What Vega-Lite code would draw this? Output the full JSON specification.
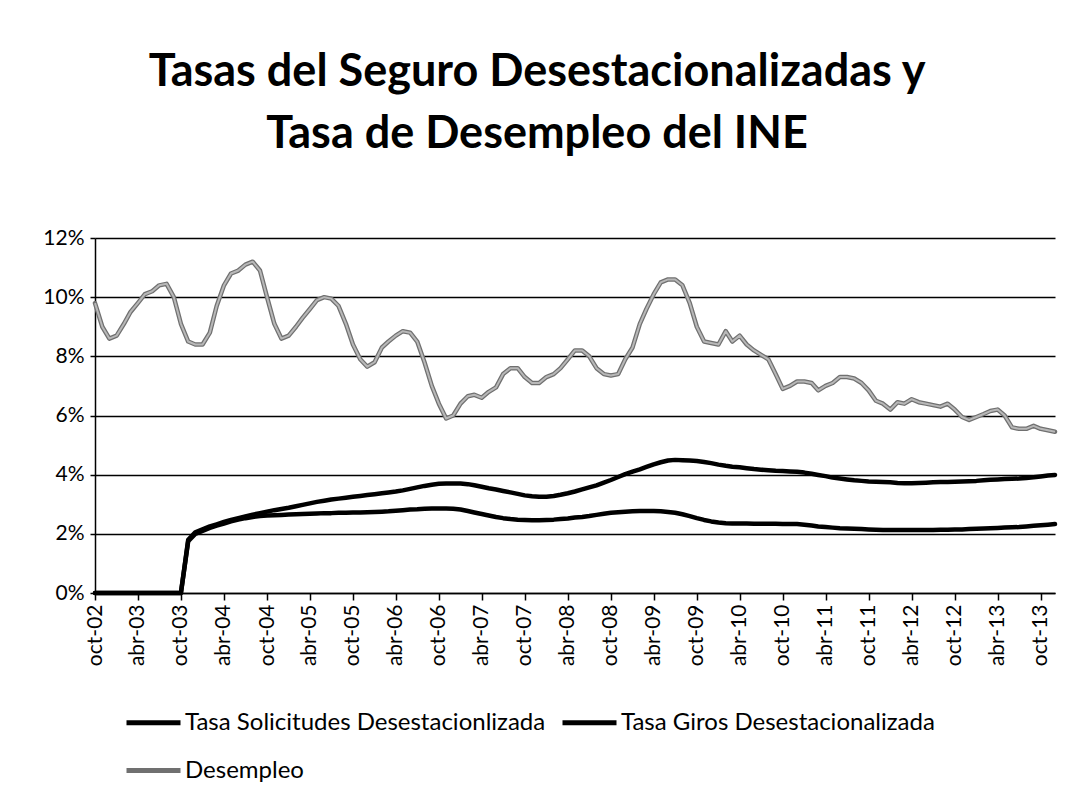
{
  "$schema": "https://vega.github.io/schema/vega-lite/v6.json",
  "width": 960,
  "height": 355,
  "autosize": "none",
  "padding": {"left": 95, "top": 238, "right": 16, "bottom": 209},
  "background": "white",
  "config": {
    "font": "Lato",
    "view": {"stroke": null},
    "locale": {
      "time": {
        "dateTime": "%A, %e de %B de %Y, %X",
        "date": "%d/%m/%Y",
        "time": "%H:%M:%S",
        "periods": ["AM", "PM"],
        "days": ["domingo", "lunes", "martes", "miércoles", "jueves", "viernes", "sábado"],
        "shortDays": ["dom", "lun", "mar", "mié", "jue", "vie", "sáb"],
        "months": ["enero", "febrero", "marzo", "abril", "mayo", "junio", "julio", "agosto", "septiembre", "octubre", "noviembre", "diciembre"],
        "shortMonths": ["ene", "feb", "mar", "abr", "may", "jun", "jul", "ago", "sep", "oct", "nov", "dic"]
      }
    }
  },
  "title": {
    "text": ["Tasas del Seguro Desestacionalizadas y", "Tasa de Desempleo del INE"],
    "font": "Lato",
    "fontSize": 45,
    "fontWeight": "bold",
    "color": "#000000",
    "lineHeight": 62,
    "anchor": "middle",
    "dx": -38,
    "offset": 70
  },
  "data": {
    "values": [
      {"t": "2002-10-01", "sol": 0, "gir": 0, "des": 9.8},
      {"t": "2002-11-01", "sol": 0, "gir": 0, "des": 9.0},
      {"t": "2002-12-01", "sol": 0, "gir": 0, "des": 8.6},
      {"t": "2003-01-01", "sol": 0, "gir": 0, "des": 8.7},
      {"t": "2003-02-01", "sol": 0, "gir": 0, "des": 9.1},
      {"t": "2003-03-01", "sol": 0, "gir": 0, "des": 9.5},
      {"t": "2003-04-01", "sol": 0, "gir": 0, "des": 9.8},
      {"t": "2003-05-01", "sol": 0, "gir": 0, "des": 10.1},
      {"t": "2003-06-01", "sol": 0, "gir": 0, "des": 10.2},
      {"t": "2003-07-01", "sol": 0, "gir": 0, "des": 10.4},
      {"t": "2003-08-01", "sol": 0, "gir": 0, "des": 10.45},
      {"t": "2003-09-01", "sol": 0, "gir": 0, "des": 10.0},
      {"t": "2003-10-01", "sol": 0, "gir": 0, "des": 9.1},
      {"t": "2003-11-01", "sol": 1.8, "gir": 1.75, "des": 8.5},
      {"t": "2003-12-01", "sol": 2.05, "gir": 2.0, "des": 8.4},
      {"t": "2004-01-01", "sol": 2.15, "gir": 2.1, "des": 8.4},
      {"t": "2004-02-01", "sol": 2.25, "gir": 2.2, "des": 8.8},
      {"t": "2004-03-01", "sol": 2.32, "gir": 2.28, "des": 9.7},
      {"t": "2004-04-01", "sol": 2.4, "gir": 2.35, "des": 10.4},
      {"t": "2004-05-01", "sol": 2.47, "gir": 2.42, "des": 10.8},
      {"t": "2004-06-01", "sol": 2.53, "gir": 2.48, "des": 10.9},
      {"t": "2004-07-01", "sol": 2.59, "gir": 2.53, "des": 11.1},
      {"t": "2004-08-01", "sol": 2.65, "gir": 2.57, "des": 11.2},
      {"t": "2004-09-01", "sol": 2.7, "gir": 2.6, "des": 10.9},
      {"t": "2004-10-01", "sol": 2.75, "gir": 2.62, "des": 10.0},
      {"t": "2004-11-01", "sol": 2.8, "gir": 2.63, "des": 9.1},
      {"t": "2004-12-01", "sol": 2.84, "gir": 2.64, "des": 8.6},
      {"t": "2005-01-01", "sol": 2.88, "gir": 2.65, "des": 8.7},
      {"t": "2005-02-01", "sol": 2.93, "gir": 2.66, "des": 9.0},
      {"t": "2005-03-01", "sol": 2.98, "gir": 2.67, "des": 9.3},
      {"t": "2005-04-01", "sol": 3.03, "gir": 2.68, "des": 9.6},
      {"t": "2005-05-01", "sol": 3.08, "gir": 2.69, "des": 9.9},
      {"t": "2005-06-01", "sol": 3.12, "gir": 2.7, "des": 10.0},
      {"t": "2005-07-01", "sol": 3.16, "gir": 2.7, "des": 9.95},
      {"t": "2005-08-01", "sol": 3.19, "gir": 2.71, "des": 9.7},
      {"t": "2005-09-01", "sol": 3.22, "gir": 2.71, "des": 9.1},
      {"t": "2005-10-01", "sol": 3.25, "gir": 2.72, "des": 8.4},
      {"t": "2005-11-01", "sol": 3.28, "gir": 2.72, "des": 7.9},
      {"t": "2005-12-01", "sol": 3.31, "gir": 2.73, "des": 7.65},
      {"t": "2006-01-01", "sol": 3.34, "gir": 2.74, "des": 7.8},
      {"t": "2006-02-01", "sol": 3.37, "gir": 2.75, "des": 8.3},
      {"t": "2006-03-01", "sol": 3.4, "gir": 2.76, "des": 8.5},
      {"t": "2006-04-01", "sol": 3.43, "gir": 2.78, "des": 8.7},
      {"t": "2006-05-01", "sol": 3.47, "gir": 2.8, "des": 8.85},
      {"t": "2006-06-01", "sol": 3.52, "gir": 2.82, "des": 8.8},
      {"t": "2006-07-01", "sol": 3.57, "gir": 2.83, "des": 8.5},
      {"t": "2006-08-01", "sol": 3.62, "gir": 2.85, "des": 7.8},
      {"t": "2006-09-01", "sol": 3.66, "gir": 2.86, "des": 7.0},
      {"t": "2006-10-01", "sol": 3.69, "gir": 2.86, "des": 6.4},
      {"t": "2006-11-01", "sol": 3.7, "gir": 2.86, "des": 5.9},
      {"t": "2006-12-01", "sol": 3.7, "gir": 2.85, "des": 6.0},
      {"t": "2007-01-01", "sol": 3.7, "gir": 2.82, "des": 6.4},
      {"t": "2007-02-01", "sol": 3.68, "gir": 2.77, "des": 6.65},
      {"t": "2007-03-01", "sol": 3.64, "gir": 2.72, "des": 6.7},
      {"t": "2007-04-01", "sol": 3.59, "gir": 2.67, "des": 6.6},
      {"t": "2007-05-01", "sol": 3.54, "gir": 2.62, "des": 6.8},
      {"t": "2007-06-01", "sol": 3.5, "gir": 2.57, "des": 6.95},
      {"t": "2007-07-01", "sol": 3.45, "gir": 2.53, "des": 7.4},
      {"t": "2007-08-01", "sol": 3.4, "gir": 2.5, "des": 7.6},
      {"t": "2007-09-01", "sol": 3.35, "gir": 2.48, "des": 7.6},
      {"t": "2007-10-01", "sol": 3.3, "gir": 2.47, "des": 7.3},
      {"t": "2007-11-01", "sol": 3.27, "gir": 2.46, "des": 7.1},
      {"t": "2007-12-01", "sol": 3.25, "gir": 2.46, "des": 7.1},
      {"t": "2008-01-01", "sol": 3.25, "gir": 2.47, "des": 7.3},
      {"t": "2008-02-01", "sol": 3.28, "gir": 2.48, "des": 7.4},
      {"t": "2008-03-01", "sol": 3.32, "gir": 2.5, "des": 7.6},
      {"t": "2008-04-01", "sol": 3.37, "gir": 2.52, "des": 7.9},
      {"t": "2008-05-01", "sol": 3.43, "gir": 2.55, "des": 8.2},
      {"t": "2008-06-01", "sol": 3.5, "gir": 2.57, "des": 8.2},
      {"t": "2008-07-01", "sol": 3.57, "gir": 2.6, "des": 8.0},
      {"t": "2008-08-01", "sol": 3.64, "gir": 2.64, "des": 7.6},
      {"t": "2008-09-01", "sol": 3.73, "gir": 2.68, "des": 7.4},
      {"t": "2008-10-01", "sol": 3.82, "gir": 2.71, "des": 7.35},
      {"t": "2008-11-01", "sol": 3.92, "gir": 2.73, "des": 7.4},
      {"t": "2008-12-01", "sol": 4.02, "gir": 2.75, "des": 7.9},
      {"t": "2009-01-01", "sol": 4.1, "gir": 2.76, "des": 8.3},
      {"t": "2009-02-01", "sol": 4.18, "gir": 2.77, "des": 9.1},
      {"t": "2009-03-01", "sol": 4.26, "gir": 2.77, "des": 9.6},
      {"t": "2009-04-01", "sol": 4.35, "gir": 2.77, "des": 10.1},
      {"t": "2009-05-01", "sol": 4.42, "gir": 2.76, "des": 10.5},
      {"t": "2009-06-01", "sol": 4.48, "gir": 2.74, "des": 10.6},
      {"t": "2009-07-01", "sol": 4.5, "gir": 2.71, "des": 10.6},
      {"t": "2009-08-01", "sol": 4.49, "gir": 2.66, "des": 10.4},
      {"t": "2009-09-01", "sol": 4.48, "gir": 2.6, "des": 9.8},
      {"t": "2009-10-01", "sol": 4.46, "gir": 2.53, "des": 9.0},
      {"t": "2009-11-01", "sol": 4.43, "gir": 2.47, "des": 8.5},
      {"t": "2009-12-01", "sol": 4.39, "gir": 2.42, "des": 8.45},
      {"t": "2010-01-01", "sol": 4.34, "gir": 2.38, "des": 8.4},
      {"t": "2010-02-01", "sol": 4.3, "gir": 2.36, "des": 8.85},
      {"t": "2010-03-01", "sol": 4.27, "gir": 2.35, "des": 8.5},
      {"t": "2010-04-01", "sol": 4.25, "gir": 2.35, "des": 8.7},
      {"t": "2010-05-01", "sol": 4.22, "gir": 2.35, "des": 8.4},
      {"t": "2010-06-01", "sol": 4.19, "gir": 2.34, "des": 8.2},
      {"t": "2010-07-01", "sol": 4.17, "gir": 2.34, "des": 8.05},
      {"t": "2010-08-01", "sol": 4.15, "gir": 2.34, "des": 7.9},
      {"t": "2010-09-01", "sol": 4.13, "gir": 2.34, "des": 7.4},
      {"t": "2010-10-01", "sol": 4.12, "gir": 2.33, "des": 6.9},
      {"t": "2010-11-01", "sol": 4.11, "gir": 2.33, "des": 7.0},
      {"t": "2010-12-01", "sol": 4.1, "gir": 2.33, "des": 7.15},
      {"t": "2011-01-01", "sol": 4.07, "gir": 2.31, "des": 7.15},
      {"t": "2011-02-01", "sol": 4.03, "gir": 2.28, "des": 7.1},
      {"t": "2011-03-01", "sol": 3.99, "gir": 2.25, "des": 6.85},
      {"t": "2011-04-01", "sol": 3.95, "gir": 2.23, "des": 7.0},
      {"t": "2011-05-01", "sol": 3.9, "gir": 2.21, "des": 7.1},
      {"t": "2011-06-01", "sol": 3.87, "gir": 2.19, "des": 7.3},
      {"t": "2011-07-01", "sol": 3.84, "gir": 2.18, "des": 7.3},
      {"t": "2011-08-01", "sol": 3.81, "gir": 2.17, "des": 7.25},
      {"t": "2011-09-01", "sol": 3.79, "gir": 2.16, "des": 7.1},
      {"t": "2011-10-01", "sol": 3.77, "gir": 2.15, "des": 6.85},
      {"t": "2011-11-01", "sol": 3.76, "gir": 2.14, "des": 6.5},
      {"t": "2011-12-01", "sol": 3.75, "gir": 2.13, "des": 6.4},
      {"t": "2012-01-01", "sol": 3.74, "gir": 2.13, "des": 6.2},
      {"t": "2012-02-01", "sol": 3.72, "gir": 2.13, "des": 6.45},
      {"t": "2012-03-01", "sol": 3.71, "gir": 2.13, "des": 6.4},
      {"t": "2012-04-01", "sol": 3.71, "gir": 2.13, "des": 6.55},
      {"t": "2012-05-01", "sol": 3.72, "gir": 2.13, "des": 6.45},
      {"t": "2012-06-01", "sol": 3.73, "gir": 2.13, "des": 6.4},
      {"t": "2012-07-01", "sol": 3.74, "gir": 2.13, "des": 6.35},
      {"t": "2012-08-01", "sol": 3.75, "gir": 2.14, "des": 6.3},
      {"t": "2012-09-01", "sol": 3.75, "gir": 2.14, "des": 6.4},
      {"t": "2012-10-01", "sol": 3.76, "gir": 2.15, "des": 6.2},
      {"t": "2012-11-01", "sol": 3.77, "gir": 2.15, "des": 5.95},
      {"t": "2012-12-01", "sol": 3.78, "gir": 2.16, "des": 5.85},
      {"t": "2013-01-01", "sol": 3.79, "gir": 2.17, "des": 5.95},
      {"t": "2013-02-01", "sol": 3.81, "gir": 2.18, "des": 6.05},
      {"t": "2013-03-01", "sol": 3.83, "gir": 2.19, "des": 6.15},
      {"t": "2013-04-01", "sol": 3.84, "gir": 2.2, "des": 6.2},
      {"t": "2013-05-01", "sol": 3.85, "gir": 2.21, "des": 6.0},
      {"t": "2013-06-01", "sol": 3.86, "gir": 2.22, "des": 5.6},
      {"t": "2013-07-01", "sol": 3.87, "gir": 2.23, "des": 5.55},
      {"t": "2013-08-01", "sol": 3.89, "gir": 2.25, "des": 5.55},
      {"t": "2013-09-01", "sol": 3.91, "gir": 2.27, "des": 5.65},
      {"t": "2013-10-01", "sol": 3.94, "gir": 2.29, "des": 5.55},
      {"t": "2013-11-01", "sol": 3.97, "gir": 2.31, "des": 5.5},
      {"t": "2013-12-01", "sol": 3.99, "gir": 2.33, "des": 5.45}
    ]
  },
  "transform": [{"fold": ["sol", "gir", "des"], "as": ["serie", "valor"]}],
  "encoding": {
    "x": {
      "field": "t",
      "type": "temporal",
      "scale": {
        "type": "utc",
        "domain": [
          {"year": 2002, "month": 10, "date": 1, "utc": true},
          {"year": 2013, "month": 12, "date": 1, "utc": true}
        ]
      },
      "axis": {
        "title": null,
        "values": [
          {"year": 2002, "month": 10, "date": 1, "utc": true},
          {"year": 2003, "month": 4, "date": 1, "utc": true},
          {"year": 2003, "month": 10, "date": 1, "utc": true},
          {"year": 2004, "month": 4, "date": 1, "utc": true},
          {"year": 2004, "month": 10, "date": 1, "utc": true},
          {"year": 2005, "month": 4, "date": 1, "utc": true},
          {"year": 2005, "month": 10, "date": 1, "utc": true},
          {"year": 2006, "month": 4, "date": 1, "utc": true},
          {"year": 2006, "month": 10, "date": 1, "utc": true},
          {"year": 2007, "month": 4, "date": 1, "utc": true},
          {"year": 2007, "month": 10, "date": 1, "utc": true},
          {"year": 2008, "month": 4, "date": 1, "utc": true},
          {"year": 2008, "month": 10, "date": 1, "utc": true},
          {"year": 2009, "month": 4, "date": 1, "utc": true},
          {"year": 2009, "month": 10, "date": 1, "utc": true},
          {"year": 2010, "month": 4, "date": 1, "utc": true},
          {"year": 2010, "month": 10, "date": 1, "utc": true},
          {"year": 2011, "month": 4, "date": 1, "utc": true},
          {"year": 2011, "month": 10, "date": 1, "utc": true},
          {"year": 2012, "month": 4, "date": 1, "utc": true},
          {"year": 2012, "month": 10, "date": 1, "utc": true},
          {"year": 2013, "month": 4, "date": 1, "utc": true},
          {"year": 2013, "month": 10, "date": 1, "utc": true}
        ],
        "labelExpr": "utcFormat(datum.value, '%b-%y')",
        "labelAngle": -90,
        "labelAlign": "right",
        "labelBaseline": "middle",
        "labelFont": "Lato",
        "labelFontSize": 21,
        "labelColor": "#000000",
        "labelPadding": 4,
        "labelFlush": false,
        "labelOverlap": false,
        "tickColor": "#000000",
        "tickSize": 7,
        "tickWidth": 1.5,
        "domainColor": "#000000",
        "domainWidth": 1.5,
        "grid": false
      }
    },
    "y": {
      "field": "valor",
      "type": "quantitative",
      "scale": {"domain": [0, 12], "nice": false},
      "axis": {
        "title": null,
        "values": [0, 2, 4, 6, 8, 10, 12],
        "labelExpr": "datum.value + '%'",
        "labelFont": "Lato",
        "labelFontSize": 21,
        "labelColor": "#000000",
        "labelPadding": 6,
        "tickColor": "#000000",
        "tickSize": 5,
        "tickWidth": 1.5,
        "domainColor": "#000000",
        "domainWidth": 1.5,
        "grid": true,
        "gridColor": "#000000",
        "gridWidth": 1.3
      }
    }
  },
  "layer": [
    {
      "mark": {"type": "line", "strokeWidth": 4.5, "strokeJoin": "round", "strokeCap": "round"},
      "encoding": {
        "color": {
          "field": "serie",
          "type": "nominal",
          "sort": ["sol", "gir", "des"],
          "scale": {"domain": ["sol", "gir", "des"], "range": ["#000000", "#000000", "#707070"]},
          "legend": {
            "orient": "none",
            "legendX": 29,
            "legendY": 455,
            "direction": "horizontal",
            "columns": 2,
            "title": null,
            "symbolType": "stroke",
            "symbolSize": 2916,
            "symbolStrokeWidth": 5,
            "labelFont": "Lato",
            "labelFontSize": 24,
            "labelColor": "#000000",
            "labelOffset": 2,
            "labelLimit": 600,
            "rowPadding": 6,
            "columnPadding": 6,
            "labelExpr": "datum.label == 'sol' ? 'Tasa Solicitudes Desestacionlizada' : datum.label == 'gir' ? 'Tasa Giros Desestacionalizada' : 'Desempleo'"
          }
        }
      }
    },
    {
      "transform": [{"filter": "datum.serie == 'des'"}],
      "mark": {"type": "line", "strokeWidth": 2, "color": "#b8b8b8", "strokeJoin": "round"}
    }
  ]
}
